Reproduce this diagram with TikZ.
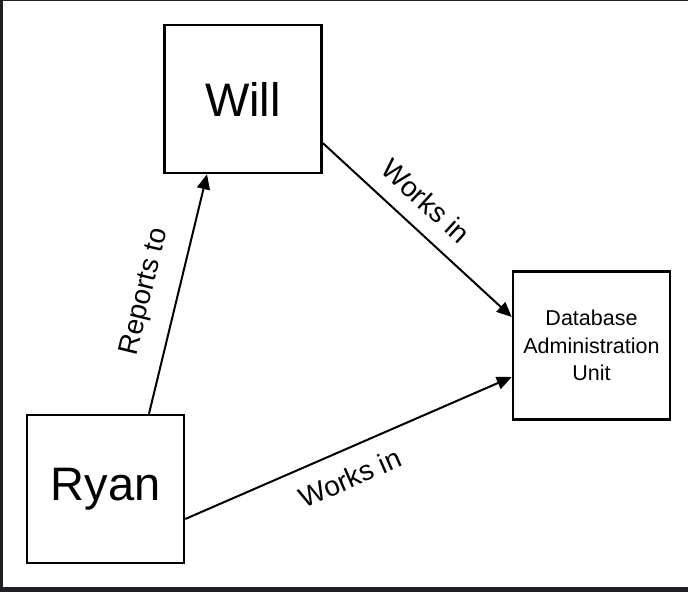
\documentclass[tikz,border=0pt]{standalone}
\usepackage{fontspec}
\setmainfont{Liberation Sans}
\usetikzlibrary{arrows.meta}
\definecolor{framedark}{HTML}{1E1F22}
\tikzset{
  box/.style={draw=black, line width=2.5pt, fill=white, minimum width=157pt, minimum height=148pt, inner sep=0pt, align=center},
  conn/.style={draw=black, line width=2pt, -{Triangle[length=15pt,width=13pt]}},
  lbl/.style={inner sep=0pt, font=\fontsize{28}{30}\selectfont}
}
\begin{document}
\begin{tikzpicture}[x=1pt,y=-1pt]
\useasboundingbox (0,0) rectangle (688,592);
\fill[framedark] (0,0) rectangle (688,592);
\fill[white] (3.3,1.3) rectangle (688,587);
\node[box, font=\fontsize{47}{50}\selectfont] (will) at (243,99) {Will};
\node[box, font=\fontsize{47}{50}\selectfont] (ryan) at (105.5,489) {Ryan};
\node[box, font=\fontsize{21.5}{27.5}\selectfont] (db) at (591.5,345.5) {Database\\Administration\\Unit};
\draw[conn] ([xshift=43.5pt]ryan.north) -- ([xshift=-36pt]will.south);
\draw[conn] ([yshift=-44pt]will.east) -- ([yshift=28.5pt]db.west);
\draw[conn] ([yshift=-30pt]ryan.east) -- ([yshift=-31.5pt]db.west);
\node[lbl, rotate=76.4] (lrep) at (145,292) {Reports to};
\node[lbl, rotate=-42.6] (lw1) at (426,201) {Works in};
\node[lbl, rotate=23.5] (lw2) at (350,478) {Works in};
\end{tikzpicture}
\end{document}
